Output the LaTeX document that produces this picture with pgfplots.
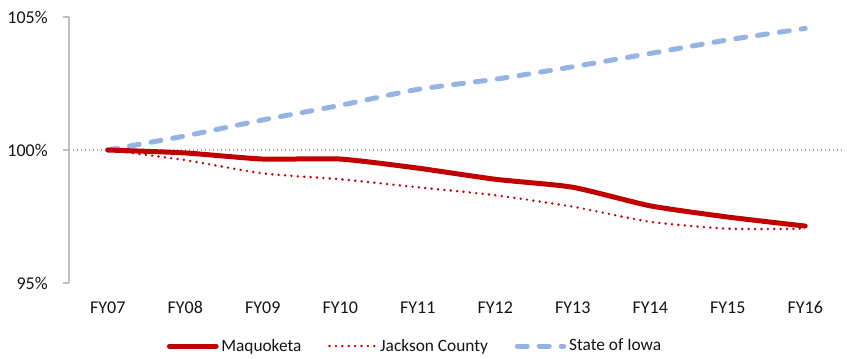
\documentclass[border=0pt]{standalone}
\usepackage{fontspec}
\setmainfont{Carlito}
\usepackage{pgfplots}
\pgfplotsset{compat=1.18}

\definecolor{maqred}{RGB}{192,0,0}
\definecolor{iowablue}{RGB}{149,179,227}
\definecolor{axisgray}{RGB}{191,191,191}
\definecolor{refgray}{RGB}{166,166,166}
\definecolor{labeltext}{RGB}{20,20,20}

\begin{document}
\begin{tikzpicture}
% overall canvas around the plot area
\path[use as bounding box] (-51.75pt,-56.25pt) rectangle (583.5pt,212.25pt);
\begin{axis}[
  at={(0,0)}, anchor=south west,
  scale only axis,
  width=581.25pt, height=199.5pt,
  xmin=-0.5, xmax=9.5,
  ymin=95, ymax=105,
  xtick={0,...,9},
  xticklabels={FY07,FY08,FY09,FY10,FY11,FY12,FY13,FY14,FY15,FY16},
  ytick={95,100,105},
  yticklabels={95\%,100\%,105\%},
  axis y line*=left,
  axis x line*=bottom,
  x axis line style={draw=none},
  y axis line style={draw=axisgray, line width=1.3pt},
  xtick style={draw=none},
  ytick style={draw=axisgray, line width=1.3pt},
  tick align=outside,
  major tick length=4.5pt,
  every tick label/.append style={font=\fontsize{13.5pt}{16pt}\selectfont, text=labeltext},
  yticklabel style={xshift=-8pt},
  xticklabel style={yshift=-7pt, text height=1.6ex, text depth=0.2ex},
  clip=false,
  legend columns=3,
  legend image code/.code={\draw[#1] (0pt,0pt) -- (35pt,0pt);},
  legend style={
    draw=none, fill=none,
    at={(0.447,-0.237)}, anchor=center,
    font=\fontsize{13pt}{15pt}\selectfont, text=labeltext,
    /tikz/every even column/.append style={column sep=18pt},
  },
  legend cell align=left,
]
% 100% reference line
\addplot[forget plot, refgray, line width=1pt, dash pattern=on 1pt off 2pt]
  coordinates {(-0.5,100) (9.5,100)};

\addplot[iowablue, line width=3.75pt, line cap=round, dash pattern=on 7.5pt off 9pt,
  smooth, tension=0.35, forget plot]
  coordinates {(0,100) (1,100.53) (2,101.13) (3,101.68) (4,102.28)
               (5,102.66) (6,103.13) (7,103.63) (8,104.14) (9,104.57)};

\addplot[maqred, line width=2pt, line cap=round, dash pattern=on 0pt off 4.8pt,
  smooth, tension=0.35, forget plot]
  coordinates {(0,100) (1,99.62) (2,99.12) (3,98.9) (4,98.6)
               (5,98.3) (6,97.87) (7,97.3) (8,97.04) (9,97.04)};

\addplot[maqred, line width=3.75pt, line cap=round, smooth, tension=0.35, forget plot]
  coordinates {(0,100) (1,99.89) (2,99.66) (3,99.66) (4,99.32)
               (5,98.9) (6,98.6) (7,97.9) (8,97.48) (9,97.14)};

% legend entries
\addlegendimage{maqred, line width=3.75pt, line cap=round}
\addlegendentry{Maquoketa}
\addlegendimage{maqred, line width=2pt, line cap=round, dash pattern=on 0pt off 4.8pt}
\addlegendentry{Jackson County}
\addlegendimage{iowablue, line width=3.75pt, line cap=round, dash pattern=on 7.5pt off 9pt}
\addlegendentry{State of Iowa}
\end{axis}
\end{tikzpicture}
\end{document}
